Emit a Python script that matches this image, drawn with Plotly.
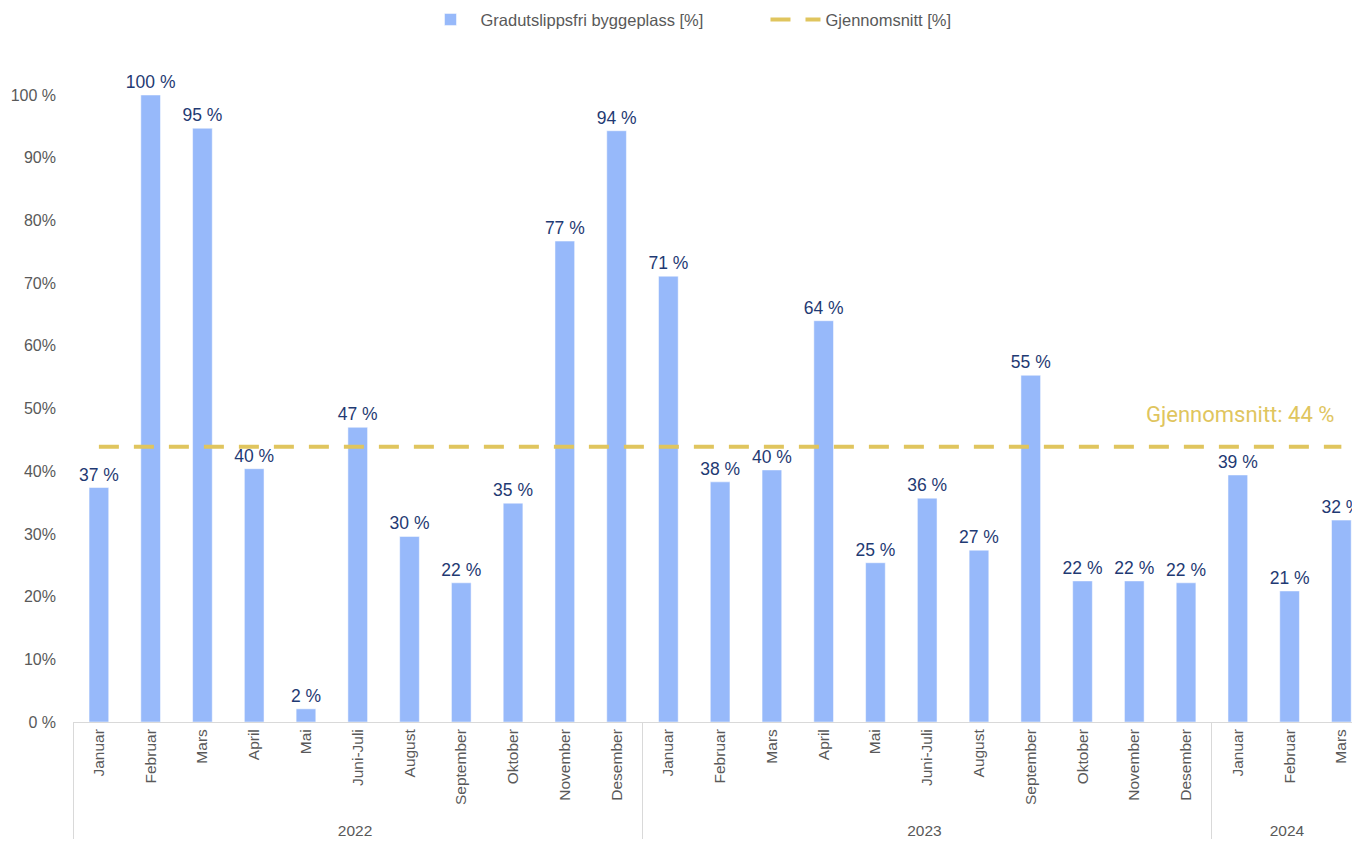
import plotly.graph_objects as go

years = ["2022"] * 11 + ["2023"] * 11 + ["2024"] * 3
months = [
    "Januar", "Februar", "Mars", "April", "Mai", "Juni-Juli", "August",
    "September", "Oktober", "November", "Desember",
    "Januar", "Februar", "Mars", "April", "Mai", "Juni-Juli", "August",
    "September", "Oktober", "November", "Desember",
    "Januar", "Februar", "Mars",
]
share = [
    37.4, 100.0, 94.7, 40.4, 2.1, 47.0, 29.6, 22.2, 34.9, 76.7, 94.3,
    71.1, 38.3, 40.2, 64.0, 25.4, 35.7, 27.4, 55.3, 22.5, 22.5, 22.2,
    39.4, 20.9, 32.2,
]
average = 43.9
y_ticks = [0, 10, 20, 30, 40, 50, 60, 70, 80, 90, 100]
y_ticktext = ["0 %", "10%", "20%", "30%", "40%", "50%", "60%", "70%", "80%", "90%", "100 %"]

fig = go.Figure()
fig.add_trace(
    go.Bar(
        x=[years, months],
        y=share,
        name="Gradutslippsfri byggeplass [%]",
        marker_color="#97B9FA",
        text=[f"{round(v)} %" for v in share],
        textposition="outside",
        constraintext="none",
        textfont={"color": "#1F3A73", "size": 17.5, "family": "Liberation Sans"},
        cliponaxis=False,
    )
)
fig.add_trace(
    go.Scatter(
        x=[[years[0], years[-1]], [months[0], months[-1]]],
        y=[average, average],
        mode="lines",
        name="Gjennomsnitt [%]",
        line={"color": "#E0C55E", "width": 4, "dash": "20px,15px"},
    )
)
fig.add_annotation(
    x=23.9, y=average, xref="x", yref="y",
    text=f"Gjennomsnitt: {round(average)} %",
    showarrow=False, xanchor="right", yanchor="bottom", yshift=18,
    font={"color": "#E0C55E", "size": 22, "family": "Roboto"},
)
fig.update_layout(
    width=1352,
    height=837,
    template="plotly_white",
    plot_bgcolor="white",
    paper_bgcolor="white",
    font={"family": "Liberation Sans", "color": "#595959", "size": 15},
    bargap=0.62,
    margin={"l": 65, "r": 0, "t": 87, "b": 123, "autoexpand": False},
    legend={
        "orientation": "h", "x": 0.270, "xanchor": "left",
        "yref": "container", "y": 0.986, "yanchor": "middle", "itemwidth": 50,
        "entrywidth": 280, "entrywidthmode": "pixels",
        "font": {"size": 16.5, "color": "#595959"},
    },
    showlegend=True,
)
fig.update_xaxes(
    type="multicategory",
    range=[-0.5, 24.36],
    tickangle=-90,
    showgrid=False,
    showline=True,
    linecolor="#D9D9D9",
    linewidth=1,
    showdividers=True,
    dividercolor="#D9D9D9",
    dividerwidth=1,
    tickfont={"size": 15.5, "color": "#595959"},
)
fig.update_yaxes(
    range=[0, 100],
    tickvals=y_ticks,
    ticktext=y_ticktext,
    showgrid=False,
    zeroline=False,
    showline=False,
    ticks="",
    ticklabelstandoff=16,
    tickfont={"size": 16, "color": "#595959"},
)
fig.write_html("out.html")
